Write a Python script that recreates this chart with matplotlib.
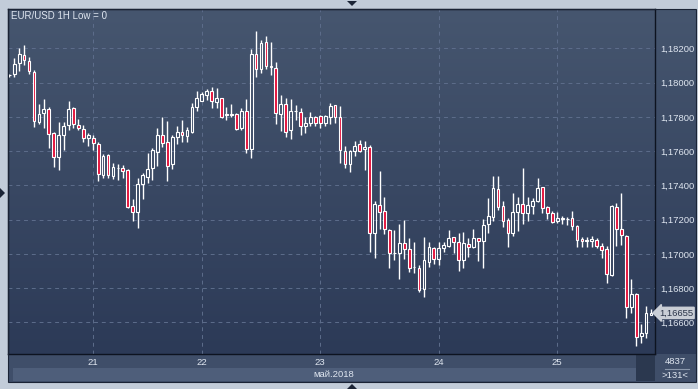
import numpy as np
import matplotlib.pyplot as plt
from matplotlib.patches import Rectangle, Polygon
from matplotlib.colors import LinearSegmentedColormap

# EUR/USD hourly candles (131 visible bars)
opens = [1.18042, 1.18050, 1.18112, 1.18159, 1.18124, 1.18060, 1.17770, 1.17820, 1.17844, 1.17703,
         1.17563, 1.17692, 1.17750, 1.17849, 1.17750, 1.17727, 1.17674, 1.17676, 1.17641, 1.17462,
         1.17577, 1.17456, 1.17499, 1.17499, 1.17489, 1.17279, 1.17246, 1.17406, 1.17450, 1.17499,
         1.17596, 1.17694, 1.17651, 1.17522, 1.17680, 1.17709, 1.17690, 1.17713, 1.17855, 1.17894,
         1.17927, 1.17951, 1.17888, 1.17908, 1.17812, 1.17814, 1.17814, 1.17735, 1.17834, 1.17614,
         1.18170, 1.18077, 1.18235, 1.18095, 1.18083, 1.17814, 1.17873, 1.17723, 1.17834, 1.17830,
         1.17748, 1.17766, 1.17799, 1.17803, 1.17762, 1.17801, 1.17867, 1.17801, 1.17602, 1.17522,
         1.17602, 1.17639, 1.17610, 1.17626, 1.17120, 1.17283, 1.17252, 1.17139, 1.17003, 1.17003,
         1.17061, 1.17026, 1.16925, 1.16915, 1.16795, 1.16954, 1.17032, 1.16968, 1.17032, 1.17046,
         1.17096, 1.17071, 1.16964, 1.17055, 1.17038, 1.17090, 1.17075, 1.17172, 1.17213, 1.17377,
         1.17279, 1.17197, 1.17120, 1.17246, 1.17289, 1.17236, 1.17279, 1.17310, 1.17388, 1.17271,
         1.17236, 1.17194, 1.17205, 1.17201, 1.17207, 1.17164, 1.17087, 1.17077, 1.17075, 1.17081,
         1.17048, 1.17026, 1.16876, 1.17271, 1.17143, 1.17104, 1.16691, 1.16763, 1.16520, 1.16536,
         1.16645]
highs = [1.18050, 1.18141, 1.18200, 1.18219, 1.18147, 1.18073, 1.17875, 1.17902, 1.17859, 1.17713,
         1.17768, 1.17768, 1.17892, 1.17859, 1.17787, 1.17752, 1.17707, 1.17694, 1.17655, 1.17583,
         1.17583, 1.17532, 1.17524, 1.17519, 1.17493, 1.17318, 1.17441, 1.17474, 1.17587, 1.17616,
         1.17733, 1.17797, 1.17775, 1.17694, 1.17746, 1.17781, 1.17742, 1.17879, 1.17952, 1.17947,
         1.17960, 1.17972, 1.17966, 1.17912, 1.17855, 1.17875, 1.17820, 1.17849, 1.17904, 1.18194,
         1.18301, 1.18248, 1.18272, 1.18235, 1.18118, 1.17927, 1.17908, 1.17904, 1.17869, 1.17849,
         1.17801, 1.17826, 1.17805, 1.17810, 1.17810, 1.17879, 1.17869, 1.17863, 1.17631, 1.17606,
         1.17659, 1.17664, 1.17659, 1.17635, 1.17308, 1.17483, 1.17334, 1.17143, 1.17139, 1.17174,
         1.17197, 1.17094, 1.17071, 1.16935, 1.17100, 1.17071, 1.17042, 1.17071, 1.17071, 1.17139,
         1.17100, 1.17120, 1.17125, 1.17094, 1.17145, 1.17094, 1.17203, 1.17324, 1.17456, 1.17456,
         1.17308, 1.17207, 1.17357, 1.17334, 1.17499, 1.17334, 1.17328, 1.17445, 1.17392, 1.17281,
         1.17252, 1.17242, 1.17221, 1.17217, 1.17252, 1.17168, 1.17100, 1.17096, 1.17106, 1.17090,
         1.17061, 1.17046, 1.17285, 1.17299, 1.17353, 1.17110, 1.16851, 1.16769, 1.16588, 1.16695,
         1.16676]
lows = [1.18034, 1.18030, 1.18067, 1.18102, 1.18050, 1.17742, 1.17758, 1.17733, 1.17620, 1.17509,
        1.17489, 1.17606, 1.17723, 1.17733, 1.17723, 1.17655, 1.17631, 1.17606, 1.17425, 1.17441,
        1.17441, 1.17437, 1.17431, 1.17441, 1.17266, 1.17194, 1.17153, 1.17320, 1.17412, 1.17431,
        1.17515, 1.17626, 1.17425, 1.17493, 1.17641, 1.17655, 1.17655, 1.17707, 1.17836, 1.17890,
        1.17898, 1.17853, 1.17849, 1.17795, 1.17781, 1.17797, 1.17723, 1.17723, 1.17587, 1.17561,
        1.18034, 1.18058, 1.18079, 1.18044, 1.17758, 1.17719, 1.17684, 1.17670, 1.17781, 1.17694,
        1.17703, 1.17746, 1.17746, 1.17737, 1.17746, 1.17758, 1.17766, 1.17528, 1.17503, 1.17480,
        1.17571, 1.17596, 1.17489, 1.17013, 1.16978, 1.17145, 1.17114, 1.16919, 1.16964, 1.16851,
        1.16968, 1.16896, 1.16890, 1.16779, 1.16750, 1.16925, 1.16939, 1.16935, 1.17009, 1.17038,
        1.17003, 1.16902, 1.16915, 1.16983, 1.17032, 1.16960, 1.16919, 1.17120, 1.17194, 1.17256,
        1.17159, 1.17042, 1.17106, 1.17135, 1.17172, 1.17192, 1.17231, 1.17304, 1.17236, 1.17203,
        1.17182, 1.17178, 1.17172, 1.17168, 1.17139, 1.17042, 1.17042, 1.17042, 1.17042, 1.17032,
        1.16974, 1.16828, 1.16870, 1.17048, 1.17051, 1.16623, 1.16653, 1.16464, 1.16477, 1.16507,
        1.16643]
closes = [1.18044, 1.18106, 1.18165, 1.18130, 1.18065, 1.17773, 1.17814, 1.17844, 1.17698, 1.17563,
          1.17694, 1.17746, 1.17844, 1.17756, 1.17733, 1.17674, 1.17694, 1.17645, 1.17464, 1.17571,
          1.17460, 1.17505, 1.17501, 1.17485, 1.17275, 1.17242, 1.17408, 1.17460, 1.17495, 1.17606,
          1.17694, 1.17649, 1.17515, 1.17684, 1.17709, 1.17692, 1.17723, 1.17859, 1.17908, 1.17933,
          1.17951, 1.17894, 1.17908, 1.17801, 1.17814, 1.17810, 1.17729, 1.17834, 1.17614, 1.18170,
          1.18077, 1.18229, 1.18100, 1.18091, 1.17820, 1.17873, 1.17713, 1.17834, 1.17832, 1.17748,
          1.17762, 1.17797, 1.17766, 1.17762, 1.17803, 1.17863, 1.17801, 1.17606, 1.17522, 1.17600,
          1.17631, 1.17602, 1.17624, 1.17120, 1.17291, 1.17246, 1.17143, 1.17003, 1.17005, 1.17061,
          1.17026, 1.16919, 1.16923, 1.16787, 1.16964, 1.17038, 1.16968, 1.17032, 1.17051, 1.17090,
          1.17071, 1.16964, 1.17061, 1.17038, 1.17094, 1.17077, 1.17168, 1.17221, 1.17382, 1.17275,
          1.17194, 1.17120, 1.17242, 1.17289, 1.17236, 1.17285, 1.17308, 1.17382, 1.17266, 1.17236,
          1.17188, 1.17207, 1.17207, 1.17203, 1.17162, 1.17081, 1.17077, 1.17079, 1.17085, 1.17048,
          1.17022, 1.16880, 1.17279, 1.17143, 1.17110, 1.16688, 1.16763, 1.16512, 1.16536, 1.16653,
          1.16655]

price_ticks = [1.166, 1.168, 1.170, 1.172, 1.174, 1.176, 1.178, 1.180, 1.182]
day_ticks = [17, 39, 63, 87, 111]
day_labels = ['21', '22', '23', '24', '25']
month_label = 'май.2018'
title = 'EUR/USD 1H Low = 0'
last_price = 1.16655
bars_total = '4837'
bars_visible = '>131<'

W, H = 698, 389
TXT = '#dfe6f0'
RED = '#e3103a'
FS = 6.8
plt.rcParams['font.family'] = ['Liberation Sans', 'DejaVu Sans']

fig = plt.figure(figsize=(W / 100, H / 100), dpi=100)
fig.patch.set_facecolor('#c2ccd9')


def box(x0, y0, x1, y1):
    # pixel box (origin top-left) -> figure fraction rect
    return [x0 / W, 1 - y1 / H, (x1 - x0) / W, (y1 - y0) / H]


def rect(x0, y0, x1, y1, color):
    l, b, w, h = box(x0, y0, x1, y1)
    fig.add_artist(Rectangle((l, b), w, h, transform=fig.transFigure,
                             fc=color, ec='none', zorder=0))


def tri(pts, color):
    fig.add_artist(Polygon([(x / W, 1 - y / H) for x, y in pts], closed=True,
                           transform=fig.transFigure, fc=color, ec='none'))


# bottom strips
rect(8, 354, 696, 382, '#3f4e69')
rect(12.5, 368, 636, 381, '#4e5e7a')
rect(636, 355, 655, 381, '#2b384f')

# gradient background for plot + price panel
bg = fig.add_axes(box(8, 9, 696, 354))
cmap = LinearSegmentedColormap.from_list('bg', ['#2c3a57', '#46566f'])
bg.imshow(np.linspace(0, 1, 256).reshape(-1, 1)[::-1], aspect='auto', cmap=cmap,
          extent=[0, 1, 0, 1])
bg.axis('off')

ax = fig.add_axes(box(8, 9, 655, 354))
ax.set_facecolor('none')

x = np.arange(len(opens))
o = np.array(opens)
h = np.array(highs)
lo = np.array(lows)
c = np.array(closes)
top = np.maximum(o, c)
bot = np.minimum(o, c)
up = c >= o

ax.vlines(x, top, h, color='white', lw=1, zorder=3)
ax.vlines(x, lo, bot, color='white', lw=1, zorder=3)
ax.bar(x, np.maximum(top - bot, 0.00001), bottom=bot, width=0.56,
       color=np.where(up, 'none', RED), edgecolor='white', linewidth=0.8, zorder=4)

ax.set_xlim(-0.26, 130.8)
ax.set_ylim(1.16415, 1.18430)

ax.yaxis.tick_right()
ax.set_yticks(price_ticks)
ax.set_yticklabels([f'{v:.5f}'.replace('.', ',') for v in price_ticks])
ax.set_xticks(day_ticks)
ax.set_xticklabels(day_labels)
ax.tick_params(axis='y', length=0, pad=3.5, labelsize=FS, labelcolor=TXT)
ax.tick_params(axis='x', length=0, pad=3.0, labelsize=FS, labelcolor=TXT)
ax.grid(True, color='#5d6d8b', linestyle=(0, (4, 4)), lw=0.7, zorder=1)
for s in ax.spines.values():
    s.set_color('#0d1320')
    s.set_linewidth(1)

ax.text(0.004, 0.993, title, transform=ax.transAxes, ha='left', va='top',
        fontsize=7, color=TXT)

# last price marker
ax.text(1.006, last_price, f'{last_price:.5f}'.replace('.', ','),
        transform=ax.get_yaxis_transform(), ha='left', va='center',
        fontsize=FS, color='#2a3448', clip_on=False, zorder=6,
        bbox=dict(boxstyle='larrow,pad=0.12', fc='#c9ced6', ec='#c9ced6'))

# outer frame
l, b, w, hh = box(8, 9, 696, 382)
fig.add_artist(Rectangle((l, b), w, hh, transform=fig.transFigure,
                         fc='none', ec='#1a2335', lw=0.8))

fig.text(334 / W, 1 - 374.5 / H, month_label, ha='center', va='center',
         fontsize=FS, color=TXT)
fig.text(675 / W, 1 - 362 / H, bars_total, ha='center', va='center',
         fontsize=FS, color=TXT)
fig.add_artist(plt.Line2D([665 / W, 689 / W], [1 - 369 / H] * 2,
                          transform=fig.transFigure, color='#8a97ab', lw=0.8))
fig.text(675 / W, 1 - 375 / H, bars_visible, ha='center', va='center',
         fontsize=FS, color=TXT)

# scroll markers
tri([(347, 1), (357, 1), (352, 6)], '#1b2436')
tri([(347, 389), (357, 389), (352, 384)], '#1b2436')
tri([(0, 188), (0, 198), (5, 193)], '#1b2436')

fig.savefig('out.png', dpi=100, facecolor=fig.get_facecolor())
